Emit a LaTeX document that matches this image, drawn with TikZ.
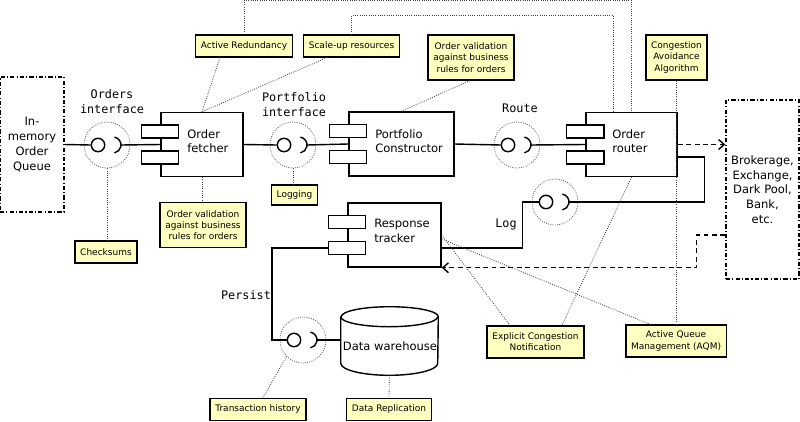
\documentclass[tikz,border=0pt]{standalone}
\usepackage{fontspec}
\setmainfont{DejaVu Sans}
\setmonofont{DejaVu Sans Mono}
\usepackage{tikz}
\usetikzlibrary{arrows.meta, positioning}
\definecolor{notefill}{RGB}{255,255,192}
\tikzset{
  comp/.style={draw, line width=1pt, minimum width=#1, minimum height=1.6cm, inner sep=0pt},
  ctext/.style={anchor=west, align=left, inner sep=0pt, font=\fontsize{8.2}{10.3}\selectfont},
  port/.style={draw, fill=white, line width=1pt, minimum width=0.925cm, minimum height=0.325cm, inner sep=0pt},
  iface/.style={circle, draw=black!65, densely dotted, line width=0.6pt, minimum size=1.15cm, inner sep=0pt},
  ball/.style={circle, draw, line width=1pt, minimum size=0.335cm, inner sep=0pt},
  note/.style={draw, line width=1pt, fill=notefill, align=center, font=\fontsize{6.4}{8}\selectfont, inner xsep=0.13cm, inner ysep=1pt, minimum height=#1},
  note/.default=0.54cm,
  mono/.style={align=center, inner sep=0pt, font=\ttfamily\fontsize{8.4}{10.7}\selectfont},
  ext/.style={draw, line width=1pt, dash pattern=on 3pt off 1.5pt on 0.8pt off 1.5pt, align=center, font=\fontsize{8.2}{10.5}\selectfont, inner sep=0pt},
  conn/.style={line width=1pt},
  link/.style={densely dotted, line width=0.6pt, black!75},
  dasharr/.style={line width=1pt, dash pattern=on 3.5pt off 2.5pt, -{Straight Barb[length=4pt, width=7pt]}}
}
% ball-and-socket interface
\newcommand{\lolli}[3]{%
  \node[iface] (#1) at (#2,#3) {};
  \node[ball] (#1-b) at ([xshift=-0.225cm]#1.center) {};
  \coordinate (#1-s) at ([xshift=0.35cm]#1.center);
  \draw[conn] ([shift={(0.185cm,0.197cm)}]#1.center) arc[start angle=80, end angle=-80, radius=0.2cm];
}

\begin{document}
\begin{tikzpicture}[x=0.025cm, y=-0.025cm]
        \useasboundingbox (0,0) rectangle (800,421);

        % Outside boxes
        \node[ext, minimum width=1.6cm, minimum height=3.375cm] (queue) at (32,144.5) {In-\\memory\\Order\\Queue};
        \node[ext, minimum width=1.825cm, minimum height=4.475cm] (brok) at (762.5,189.5) {Brokerage,\\Exchange,\\Dark Pool,\\Bank,\\etc.};

        % Components
        \node[comp=2.05cm] (fetch) at (202,144.5) {};
        \node[comp=2.625cm] (cons) at (401.5,144) {};
        \node[comp=2.275cm] (route) at (631.5,144.5) {};
        \node[comp=2.325cm] (track) at (394.5,235) {};
        \node[port] (fetch-p1) at ([yshift=0.32cm]fetch.west) {};
        \node[port] (fetch-p2) at ([yshift=-0.32cm]fetch.west) {};
        \node[port] (cons-p1) at ([yshift=0.32cm]cons.west) {};
        \node[port] (cons-p2) at ([yshift=-0.32cm]cons.west) {};
        \node[port] (route-p1) at ([yshift=0.32cm]route.west) {};
        \node[port] (route-p2) at ([yshift=-0.32cm]route.west) {};
        \node[port] (track-p1) at ([yshift=0.32cm]track.west) {};
        \node[port] (track-p2) at ([yshift=-0.32cm]track.west) {};
        \node[ctext] (fetch-l) at (187,141) {Order\\fetcher};
        \node[ctext] (cons-l) at (375,141) {Portfolio\\Constructor};
        \node[ctext] (route-l) at (612,141) {Order\\router};
        \node[ctext] (track-l) at (374,231) {Response\\tracker};

        % Data warehouse
        \node[minimum width=2.425cm, minimum height=1.15cm, inner sep=0pt] (dw) at (389.5,340) {};
        \node[inner sep=0pt, font=\fontsize{8.2}{10}\selectfont] (dw-l) at (390,346) {Data warehouse};
        \draw[conn] (dw.north west) -- (dw.south west)
            arc[start angle=180, end angle=360, x radius=1.2125cm, y radius=0.3cm]
            -- (dw.north east)
            arc[start angle=0, end angle=180, x radius=1.2125cm, y radius=0.25cm];
        \draw[conn] (dw.north west) arc[start angle=180, end angle=360, x radius=1.2125cm, y radius=0.25cm];

        % Interfaces
        \lolli{ordif}{107}{145}
        \lolli{portif}{293}{145}
        \lolli{routeif}{517}{145}
        \lolli{logif}{555}{202}
        \lolli{persif}{303}{340}
        \node[mono] (ordif-l) at (112,102) {Orders\\interface};
        \node[mono] (portif-l) at (294,105) {Portfolio\\interface};
        \node[mono] (routeif-l) at (520,108) {Route};
        \node[mono] (logif-l) at (506,224) {Log};
        \node[mono] (persif-l) at (246,295) {Persist};

        % Notes
        \node[note] (chk) at (106,252) {Checksums};
        \node[note=1.12cm] (val1) at (203,225) {Order validation\\against business\\rules for orders};
        \node[note] (red) at (244,46) {Active Redundancy};
        \node[note] (scale) at (351.5,46) {Scale-up resources};
        \node[note=1.12cm] (val2) at (471,57.5) {Order validation\\against business\\rules for orders};
        \node[note=1.12cm] (cong) at (676.5,57.5) {Congestion\\Avoidance\\Algorithm};
        \node[note=0.5cm] (logn) at (294.5,195) {Logging};
        \node[note=0.8cm] (ecn) at (535.5,342) {Explicit Congestion\\Notification};
        \node[note=0.8cm] (aqm) at (676,341) {Active Queue\\Management (AQM)};
        \node[note] (txh) at (258,409.5) {Transaction history};
        \node[note] (rep) at (389,409.5) {Data Replication};

        % Wires
        \draw[conn] (queue.east) -- (ordif-b.west);
        \draw[conn] (ordif-s) -- (fetch.west);
        \draw[conn] (fetch.east) -- (portif-b.west);
        \draw[conn] (portif-s) -- (cons.west);
        \draw[conn] (cons.east) -- (routeif-b.west);
        \draw[conn] (routeif-s) -- (route.west);
        \draw[conn] ([yshift=-0.31cm]route.east) -- ++(27,0) |- (logif-s);
        \draw[conn] (logif-b.west) -- ++(-16,0) |- ([yshift=-0.325cm]track.east);
        \draw[conn] (track-p2.west) -- ++(-56,0) |- (persif-b.west);
        \draw[conn] (persif-s) -- (dw.west);

        % Dashed flows
        \draw[dasharr] (route.east) -- (route.east -| brok.west);
        \draw[dasharr] ([yshift=-1.1375cm]brok.west) -- ++(-29,0) |- (track.south east);

        % Note links
        \draw[link] (ordif.south) -- (ordif.south |- chk.north);
        \draw[link] (fetch.south) -- (fetch.south |- val1.north);
        \draw[link] ([xshift=-0.6cm]red.south) -- (fetch.north);
        \draw[link] ([xshift=-0.61cm]scale.south) -- (fetch.north);
        \draw[link] (red.north) -- ++(0,-34) -| (route.north);
        \draw[link] (scale.north) -- ++(0,-19) -| ([xshift=-0.4625cm]route.north);
        \draw[link] ([xshift=-0.03cm]val2.south) -- (cons.north);
        \draw[link] (portif.south) -- (portif.south |- logn.north);
        \draw[link] (cong.south) -- (cong.south |- aqm.north);
        \draw[link] (track.east) -- ([xshift=-0.64cm]ecn.north);
        \draw[link] (route.south) -- ([xshift=0.66cm]ecn.north);
        \draw[link] ([yshift=-0.1cm]track.east) -- ([xshift=-0.65cm]aqm.north);
        \draw[link] (persif.south west) -- ([xshift=0.12cm]txh.north);
        \draw[link] ([yshift=-0.3cm]dw.south) -- (rep.north);
\end{tikzpicture}
\end{document}
